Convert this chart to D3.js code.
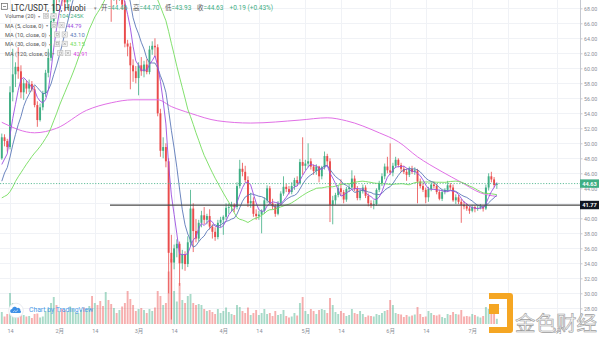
<!DOCTYPE html>
<html>
<head>
<meta charset="utf-8">
<script src="https://cdn.jsdelivr.net/npm/d3@7/dist/d3.min.js"></script>
<style>
  html, body { margin: 0; padding: 0; background: #fff; }
  svg { display: block; }
  text { font-family: Roboto, "Noto Sans CJK SC", "DejaVu Sans", sans-serif; }
</style>
</head>
<body>
<svg id="chart" width="600" height="337"></svg>
<script>
// LTC/USDT daily candles, Huobi, 2020-01-11 .. 2020-07-10
const startDate = "2020-01-11";

const opens = [
  48.0, 50.8, 50.3, 49.5, 56.8, 59.2, 60.2, 59.6, 56.8, 58.0, 57.3, 57.9, 57.2, 55.1, 53.1, 54.8, 56.7, 59.4, 61.4, 66.3,
  69.8, 69.4, 70.2, 69.2, 68.8, 69.5, 71.8, 74.0, 74.8, 75.5, 78.6, 75.2, 78.5, 81.5, 80.5, 84.0, 77.5, 77.0, 76.5, 80.5,
  71.0, 69.6, 70.8, 69.4, 71.9, 68.5, 63.3, 62.9, 60.4, 59.6, 58.7, 60.4, 59.6, 60.5, 59.5, 62.5, 63.0, 62.8, 54.0, 49.0,
  49.5, 47.6, 35.4, 34.1, 36.0, 36.6, 34.0, 35.2, 33.9, 36.8, 41.3, 38.3, 37.3, 39.4, 40.4, 39.8, 40.3, 38.9, 38.2, 37.5,
  39.4, 39.8, 40.2, 41.4, 41.5, 41.8, 41.5, 44.3, 46.6, 46.2, 45.1, 42.0, 42.3, 40.6, 40.3, 40.5, 41.0, 42.4, 44.0, 42.0,
  41.6, 40.6, 42.0, 43.3, 44.2, 43.9, 43.5, 44.3, 45.1, 44.7, 47.5, 47.0, 47.3, 47.6, 46.9, 46.3, 46.9, 45.6, 46.8, 48.3,
  47.6, 41.8, 42.4, 43.1, 44.0, 43.5, 42.5, 43.9, 44.1, 45.3, 43.9, 42.7, 43.6, 44.1, 43.0, 42.0, 41.8, 41.9, 43.8, 44.7,
  45.6, 46.9, 46.4, 46.1, 47.0, 47.8, 47.1, 46.6, 46.2, 45.8, 46.6, 46.2, 46.4, 44.9, 44.3, 43.8, 42.8, 43.9, 44.5, 44.3,
  43.5, 42.6, 43.5, 43.8, 44.4, 44.1, 42.4, 42.8, 42.2, 41.8, 41.6, 41.3, 41.0, 41.5, 41.3, 41.4, 41.55, 41.3, 44.1, 45.6,
  45.18, 44.46
];
const highs = [
  51.3, 51.2, 50.6, 57.6, 62.6, 60.8, 62.8, 60.4, 58.6, 58.4, 58.5, 58.3, 57.6, 55.6, 55.3, 57.0, 59.8, 62.6, 67.0, 70.5,
  71.0, 70.8, 71.2, 70.5, 69.8, 72.5, 74.5, 75.5, 76.0, 79.5, 79.0, 79.2, 82.5, 84.0, 85.5, 84.5, 79.0, 78.0, 81.5, 81.0,
  71.6, 71.5, 71.2, 72.5, 72.2, 69.0, 63.8, 63.4, 61.2, 60.3, 60.8, 61.5, 61.0, 61.2, 63.0, 63.6, 64.0, 63.2, 54.6, 50.8,
  50.0, 48.0, 37.8, 36.5, 37.2, 36.9, 35.8, 35.6, 37.6, 43.8, 42.0, 39.9, 39.8, 41.0, 41.5, 40.6, 41.2, 39.2, 38.8, 39.8,
  40.2, 40.4, 42.0, 42.0, 42.2, 42.0, 44.8, 47.8, 47.4, 47.0, 45.6, 43.4, 42.8, 41.2, 41.0, 41.2, 42.8, 44.4, 44.3, 42.6,
  41.9, 42.3, 43.6, 45.6, 44.6, 44.3, 44.8, 45.4, 45.6, 47.9, 50.8, 47.8, 50.0, 48.0, 47.2, 47.2, 47.0, 47.0, 48.9, 48.6,
  48.0, 43.0, 43.4, 44.4, 45.2, 43.8, 44.2, 44.6, 46.4, 45.7, 44.3, 44.0, 44.5, 44.4, 43.3, 42.4, 42.4, 44.0, 45.0, 46.0,
  47.3, 48.2, 50.0, 47.4, 48.2, 48.0, 47.4, 47.0, 46.6, 46.9, 47.0, 46.8, 46.6, 45.3, 44.7, 44.1, 44.2, 44.8, 44.9, 44.6,
  43.8, 43.8, 44.0, 45.0, 44.7, 44.5, 43.2, 43.1, 42.6, 42.3, 42.0, 41.6, 41.8, 41.7, 41.7, 41.9, 41.7, 44.5, 46.0, 46.2,
  45.5, 44.70
];
const lows = [
  47.8, 49.6, 48.9, 49.2, 55.6, 57.5, 58.6, 56.0, 55.8, 56.6, 56.8, 56.9, 54.8, 52.2, 52.9, 54.4, 56.2, 58.8, 61.0, 65.5,
  68.4, 68.8, 68.3, 67.6, 67.8, 68.9, 71.0, 73.0, 73.2, 75.0, 74.0, 74.6, 78.0, 79.0, 79.5, 76.5, 72.5, 72.5, 74.5, 69.5,
  66.2, 69.0, 68.5, 69.0, 67.8, 62.8, 61.6, 57.2, 58.2, 58.0, 56.4, 59.0, 58.8, 59.2, 59.2, 61.8, 61.5, 53.6, 48.2, 48.0,
  46.8, 30.0, 26.5, 33.2, 34.8, 31.0, 33.2, 33.0, 33.5, 36.2, 35.5, 36.8, 36.9, 38.8, 39.2, 39.2, 38.5, 37.3, 37.0, 37.2,
  38.8, 37.8, 39.8, 40.6, 40.9, 40.8, 41.2, 44.0, 45.6, 44.8, 41.5, 41.4, 40.2, 39.8, 39.8, 38.0, 40.6, 42.0, 41.8, 41.2,
  40.2, 40.4, 41.8, 43.0, 43.5, 43.2, 43.2, 43.8, 44.3, 44.5, 45.8, 46.4, 46.8, 46.5, 45.8, 45.8, 44.8, 45.2, 46.5, 47.0,
  39.5, 39.2, 41.8, 42.8, 43.0, 42.0, 42.2, 43.5, 43.8, 43.6, 42.4, 42.4, 43.3, 42.7, 41.6, 41.4, 41.2, 41.7, 43.5, 44.3,
  45.2, 46.0, 45.8, 45.6, 46.7, 46.8, 46.2, 45.9, 45.0, 45.5, 45.9, 45.8, 42.0, 44.0, 43.5, 42.0, 42.2, 43.6, 44.0, 43.2,
  42.4, 42.3, 43.2, 43.5, 43.8, 42.2, 41.9, 41.9, 39.4, 41.2, 41.0, 40.6, 40.8, 40.8, 41.0, 41.2, 40.9, 41.1, 43.7, 44.8,
  44.1, 43.93
];
const closes = [
  50.8, 50.3, 49.5, 56.8, 59.2, 60.2, 59.6, 56.8, 58.0, 57.3, 57.9, 57.2, 55.1, 53.1, 54.8, 56.7, 59.4, 61.4, 66.3, 69.8,
  69.4, 70.2, 69.2, 68.8, 69.5, 71.8, 74.0, 74.8, 75.5, 78.6, 75.2, 78.5, 81.5, 80.5, 84.0, 77.5, 77.0, 76.5, 80.5, 71.0,
  69.6, 70.8, 69.4, 71.9, 68.5, 63.3, 62.9, 60.4, 59.6, 58.7, 60.4, 59.6, 60.5, 59.5, 62.5, 63.0, 62.8, 54.0, 49.0, 49.5,
  47.6, 35.4, 34.1, 36.0, 36.6, 34.0, 35.2, 33.9, 36.8, 41.3, 38.3, 37.3, 39.4, 40.4, 39.8, 40.3, 38.9, 38.2, 37.5, 39.4,
  39.8, 40.2, 41.4, 41.5, 41.8, 41.5, 44.3, 46.6, 46.2, 45.1, 42.0, 42.3, 40.6, 40.3, 40.5, 41.0, 42.4, 44.0, 42.0, 41.6,
  40.6, 42.0, 43.3, 44.2, 43.9, 43.5, 44.3, 45.1, 44.7, 47.5, 47.0, 47.3, 47.6, 46.9, 46.3, 46.9, 45.6, 46.8, 48.3, 47.6,
  41.8, 42.4, 43.1, 44.0, 43.5, 42.5, 43.9, 44.1, 45.3, 43.9, 42.7, 43.6, 44.1, 43.0, 42.0, 41.8, 41.9, 43.8, 44.7, 45.6,
  46.9, 46.4, 46.1, 47.0, 47.8, 47.1, 46.6, 46.2, 45.8, 46.6, 46.2, 46.4, 44.9, 44.3, 43.8, 42.8, 43.9, 44.5, 44.3, 43.5,
  42.6, 43.5, 43.8, 44.4, 44.1, 42.4, 42.8, 42.2, 41.8, 41.6, 41.3, 41.0, 41.5, 41.3, 41.4, 41.55, 41.3, 44.1, 45.6, 45.18,
  44.44, 44.63
];
// daily volume, thousands of LTC
const volumes = [
  240, 150, 200, 620, 420, 300, 280, 330, 180, 150, 160, 120, 200, 210, 130, 150, 260, 310, 420, 540,
  380, 260, 300, 280, 250, 350, 300, 240, 220, 280, 330, 300, 360, 560, 420, 380, 460, 360, 640, 480,
  400, 320, 220, 280, 350, 420, 660, 500, 380, 260, 300, 320, 280, 220, 300, 260, 330, 660, 560, 380,
  420, 1050, 1300, 660, 450, 820, 480, 420, 560, 600, 420, 380, 400, 380, 300, 260, 280, 240, 200, 300,
  220, 260, 330, 240, 200, 180, 380, 340, 260, 220, 330, 180, 220, 280, 180, 220, 300, 200, 220, 160,
  260, 180, 200, 280, 160, 130, 150, 220, 170, 420, 540, 260, 200, 300, 260, 200, 280, 300, 280, 220,
  520, 380, 240, 200, 260, 220, 160, 180, 300, 220, 200, 260, 200, 140, 170, 160, 150, 200, 180, 220,
  260, 280, 480, 380, 220, 200, 190, 140, 180, 150, 170, 190, 340, 200, 140, 150, 260, 220, 180, 170,
  190, 140, 120, 200, 180, 240, 200, 190, 280, 150, 160, 150, 200, 180, 150, 130, 160, 340, 300, 280,
  220, 104.245
];
// closes 2019-12-13 .. 2020-01-10, used to seed the moving averages
const priorCloses = [
  44.3, 43.5, 43.8, 40.9, 37.6, 41.3, 40.2, 41.0, 40.6, 42.6, 41.5, 41.3, 40.8, 40.9, 41.4, 42.3, 43.4,
  42.0, 41.2, 41.6, 39.4, 42.3, 42.7, 43.0, 46.2, 46.7, 46.0, 44.4, 48.0
];
// 120-day moving average, sampled
const ma120Dates = [
  "2020-01-11", "2020-01-23", "2020-01-31", "2020-02-11", "2020-02-20", "2020-02-28", "2020-03-08",
  "2020-03-13", "2020-03-20", "2020-03-30", "2020-04-11", "2020-04-29", "2020-05-09", "2020-05-16",
  "2020-05-28", "2020-06-04", "2020-06-11", "2020-06-20", "2020-06-27", "2020-07-04", "2020-07-10"
];
const ma120Values = [
  52.8, 51.4, 52.0, 54.4, 55.4, 55.8, 55.8,
  54.9, 54.0, 53.0, 52.7, 53.1, 53.4, 53.0,
  51.4, 50.2, 48.2, 46.2, 44.8, 43.4, 42.91
];

const priceTicks = d3.range(28, 68.01, 2);
const timeTickDates = ["2020-01-14", "2020-02-01", "2020-02-14", "2020-03-01", "2020-03-14", "2020-04-01",
  "2020-04-14", "2020-05-01", "2020-05-14", "2020-06-01", "2020-06-14", "2020-07-01", "2020-07-14", "2020-08-01"];
const timeTickLabels = ["14", "2月", "14", "3月", "14", "4月", "14", "5月", "14", "6月", "14", "7月", "14", "8月"];
const supportLevel = 41.77;

// ---------------------------------------------------------------
const UP = "#3fae84", DOWN = "#ea4b4b";
const MA_COLORS = { 5: "#9b4fe0", 10: "#5b78b8", 30: "#74dc5c", 120: "#e170e6" };
const PLOT_R = 580, PLOT_B = 325;

const parse = d3.utcParse("%Y-%m-%d");
const start = parse(startDate);
const dates = closes.map((_, i) => d3.utcDay.offset(start, i));

const x = d3.scaleUtc().domain([parse("2020-01-14"), parse("2020-08-01")]).range([10, 557]);
const y = d3.scaleLinear().domain([28, 68]).range([308.3, 8.3]);
const yVol = d3.scaleLinear().domain([0, 1300]).range([324, 259]);

const svg = d3.select("#chart");

svg.append("defs").append("clipPath").attr("id", "plot")
  .append("rect").attr("x", 0).attr("y", 0).attr("width", PLOT_R).attr("height", PLOT_B);

// grid
const grid = svg.append("g").attr("stroke", "#f0f2f6").attr("stroke-width", 1);
grid.selectAll("line.h").data(priceTicks).join("line")
  .attr("x1", 0).attr("x2", PLOT_R)
  .attr("y1", d => Math.round(y(d)) + 0.5).attr("y2", d => Math.round(y(d)) + 0.5);
grid.selectAll("line.v").data(timeTickDates).join("line")
  .attr("y1", 0).attr("y2", PLOT_B)
  .attr("x1", d => Math.round(x(parse(d))) + 0.5).attr("x2", d => Math.round(x(parse(d))) + 0.5);

const plot = svg.append("g").attr("clip-path", "url(#plot)");
const bw = 1.9;

// volume
plot.append("g").selectAll("rect").data(volumes).join("rect")
  .attr("x", (d, i) => x(dates[i]) - bw / 2)
  .attr("width", bw)
  .attr("y", d => yVol(d))
  .attr("height", d => yVol(0) - yVol(d))
  .attr("fill", (d, i) => closes[i] >= opens[i] ? UP : DOWN)
  .attr("opacity", 0.45);

// candles
const cg = plot.append("g");
cg.selectAll("line").data(closes).join("line")
  .attr("x1", (d, i) => x(dates[i])).attr("x2", (d, i) => x(dates[i]))
  .attr("y1", (d, i) => y(highs[i])).attr("y2", (d, i) => y(lows[i]))
  .attr("stroke", (d, i) => closes[i] >= opens[i] ? UP : DOWN)
  .attr("stroke-width", 0.8);
cg.selectAll("rect").data(closes).join("rect")
  .attr("x", (d, i) => x(dates[i]) - bw / 2)
  .attr("width", bw)
  .attr("y", (d, i) => y(Math.max(opens[i], closes[i])))
  .attr("height", (d, i) => Math.max(0.8, Math.abs(y(opens[i]) - y(closes[i]))))
  .attr("fill", (d, i) => closes[i] >= opens[i] ? UP : DOWN);

// moving averages
const allCloses = priorCloses.concat(closes);
function sma(n) {
  const off = priorCloses.length;
  return closes.map((_, i) => {
    const end = off + i + 1;
    return { date: dates[i], v: d3.mean(allCloses.slice(end - n, end)) };
  });
}
const line = d3.line().x(d => x(d.date)).y(d => y(d.v));
const maSeries = { 5: sma(5), 10: sma(10), 30: sma(30) };
const ma120 = ma120Dates.map((d, i) => ({ date: parse(d), v: ma120Values[i] }));

plot.append("path").datum(ma120).attr("d", line.curve(d3.curveMonotoneX))
  .attr("fill", "none").attr("stroke", MA_COLORS[120]).attr("stroke-width", 1);
line.curve(d3.curveLinear);
[30, 10, 5].forEach(n => {
  plot.append("path").datum(maSeries[n]).attr("d", line)
    .attr("fill", "none").attr("stroke", MA_COLORS[n]).attr("stroke-width", 0.9);
});

// last price line and horizontal support ray
const last = closes.length - 1;
const lastUp = closes[last] >= opens[last];
plot.append("line").attr("x1", 0).attr("x2", PLOT_R)
  .attr("y1", y(closes[last])).attr("y2", y(closes[last]))
  .attr("stroke", UP).attr("stroke-width", 0.8).attr("stroke-dasharray", "1.2,1.6");
plot.append("line").attr("x1", 110).attr("x2", PLOT_R)
  .attr("y1", y(supportLevel)).attr("y2", y(supportLevel))
  .attr("stroke", "#4a4a4a").attr("stroke-width", 1.3);

// price axis; labels sitting under a value tag are left out
const tagged = [closes[last], supportLevel];
const ay = svg.append("g").attr("transform", `translate(${PLOT_R},0)`)
  .call(d3.axisRight(y).tickValues(priceTicks)
    .tickFormat(d => tagged.some(v => Math.abs(y(v) - y(d)) < 3) ? "" : d3.format(".2f")(d))
    .tickSize(2.5).tickPadding(1.5));
ay.select(".domain").attr("stroke", "#c5c8d0").attr("d", `M0.5,0V${PLOT_B}`);
ay.selectAll(".tick line").attr("stroke", "#c5c8d0");
ay.selectAll(".tick text").attr("fill", "#8a8e98").attr("font-size", 5.3);

// time axis
const ax = svg.append("g").attr("transform", `translate(0,${PLOT_B})`)
  .call(d3.axisBottom(x).tickValues(timeTickDates.map(parse))
    .tickFormat((d, i) => timeTickLabels[i]).tickSize(0).tickPadding(4));
ax.select(".domain").remove();
ax.selectAll(".tick text").attr("fill", "#8a8e98").attr("font-size", 5.5);

// value tags on the price axis
function tag(v, bg) {
  const g = svg.append("g");
  g.append("rect").attr("x", PLOT_R).attr("y", y(v) - 4.2).attr("width", 19).attr("height", 8.4)
    .attr("fill", bg);
  g.append("text").attr("x", PLOT_R + 9.5).attr("y", y(v) + 2)
    .attr("text-anchor", "middle").attr("fill", "#fff").attr("font-size", 5.6).attr("font-weight", 700)
    .text(d3.format(".2f")(v));
}
tag(closes[last], lastUp ? UP : DOWN);
tag(supportLevel, "#131722");

// legend
const lg = svg.append("g");
lg.append("rect").attr("x", 1.5).attr("y", 3.5).attr("width", 6).attr("height", 6)
  .attr("fill", "none").attr("stroke", "#666").attr("stroke-width", 0.7);
lg.append("line").attr("x1", 3).attr("x2", 6).attr("y1", 6.5).attr("y2", 6.5)
  .attr("stroke", "#666").attr("stroke-width", 0.7);
lg.append("text").attr("x", 11).attr("y", 10.5).attr("font-size", 8.2).attr("fill", "#333")
  .text("LTC/USDT, 1D, Huobi");
lg.append("text").attr("x", 94).attr("y", 9.5).attr("font-size", 5).attr("fill", "#888").text("▾");

const valColor = lastUp ? UP : DOWN;
const f2 = d3.format(".2f");
const ohlc = [["开", opens[last]], ["高", highs[last]], ["低", lows[last]], ["收", closes[last]]];
ohlc.forEach(([k, v], i) => {
  const t = lg.append("text").attr("x", 101 + i * 32).attr("y", 10.3).attr("font-size", 6.5);
  t.append("tspan").attr("fill", "#555").text(k);
  t.append("tspan").attr("fill", valColor).text("=" + f2(v));
});
const chg = closes[last] - closes[last - 1];
lg.append("text").attr("x", 229.5).attr("y", 10.3).attr("font-size", 6.5).attr("fill", valColor)
  .text(`${chg >= 0 ? "+" : ""}${f2(chg)} (${chg >= 0 ? "+" : ""}${f2(chg / closes[last - 1] * 100)}%)`);

const rows = [
  { label: "Volume (20)", value: d3.format(".3f")(volumes[last]) + "K", color: valColor },
  { label: "MA (5, close, 0)", value: f2(maSeries[5][last].v), color: MA_COLORS[5] },
  { label: "MA (10, close, 0)", value: f2(maSeries[10][last].v), color: MA_COLORS[10] },
  { label: "MA (30, close, 0)", value: f2(maSeries[30][last].v), color: MA_COLORS[30] },
  { label: "MA (120, close, 0)", value: f2(ma120Values[ma120Values.length - 1]), color: "#d63fdc" }
];
rows.forEach((r, i) => {
  const by = 18.3 + i * 9.3;
  const t = lg.append("text").attr("x", 5).attr("y", by).attr("font-size", 5.6).attr("fill", "#555").text(r.label);
  const w = t.node().getComputedTextLength();
  const ax0 = 5 + w + 2.5;
  lg.append("text").attr("x", ax0).attr("y", by - 0.3).attr("font-size", 4.2).attr("fill", "#888").text("▾");
  [ax0 + 5.5, ax0 + 13].forEach((bx, j) => {
    lg.append("rect").attr("x", bx).attr("y", by - 5).attr("width", 5.2).attr("height", 5.2)
      .attr("fill", "#f2f2f2").attr("stroke", "#b8b8b8").attr("stroke-width", 0.6);
    if (j === 0) {
      lg.append("rect").attr("x", bx + 1.5).attr("y", by - 3.5).attr("width", 2.2).attr("height", 2.2)
        .attr("fill", "none").attr("stroke", "#999").attr("stroke-width", 0.5);
    } else {
      lg.append("path").attr("d", `M${bx + 1.4},${by - 3.6}L${bx + 3.8},${by - 1.2}M${bx + 3.8},${by - 3.6}L${bx + 1.4},${by - 1.2}`)
        .attr("stroke", "#999").attr("stroke-width", 0.6);
    }
  });
  lg.append("text").attr("x", ax0 + 21).attr("y", by).attr("font-size", 5.8).attr("fill", r.color).text(r.value);
});

// TradingView badge
const tv = svg.append("g");
tv.append("circle").attr("cx", 16).attr("cy", 310.5).attr("r", 7.3)
  .attr("fill", "#fff").attr("stroke", "#e3e6ec").attr("stroke-width", 0.8);
tv.append("path")
  .attr("d", "M11.5,313 a2,2 0 0 1 0.6,-3.9 a2.6,2.6 0 0 1 4.9,-0.9 a2.2,2.2 0 0 1 3.3,2.4 a1.3,1.3 0 0 1 -0.3,2.4 Z")
  .attr("fill", "#3d8fe6");
tv.append("path").attr("d", "M13,312.2 l1.6,-1.6 l1.3,1.1 l2.1,-2")
  .attr("fill", "none").attr("stroke", "#fff").attr("stroke-width", 0.6);
tv.append("text").attr("x", 29).attr("y", 312.3).attr("font-size", 6.8).attr("fill", "#4a9be8")
  .text("Chart by TradingView");

// publisher mark
const wm = svg.append("g");
wm.append("path")
  .attr("d", "M489,293 h21 a3,3 0 0 1 3,3 v34 a3,3 0 0 1 -3,3 h-21 v-6 h18 v-28 h-18 Z")
  .attr("fill", "#f5a623");
wm.append("rect").attr("x", 489).attr("y", 304).attr("width", 10).attr("height", 10).attr("fill", "#f5a623");
wm.append("text").attr("x", 515).attr("y", 331).attr("font-size", 20.5)
  .attr("font-family", "'Noto Sans CJK SC', sans-serif").attr("font-weight", 400)
  .attr("fill", "#f6f6f6").attr("stroke", "#9c9c9c").attr("stroke-width", 0.6)
  .text("金色财经");
</script>
</body>
</html>
